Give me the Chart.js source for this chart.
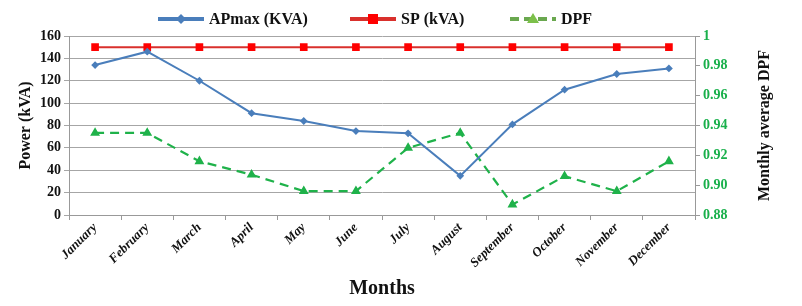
<!DOCTYPE html>
<html>
<head>
<meta charset="utf-8">
<script src="https://cdn.jsdelivr.net/npm/chart.js@4/dist/chart.umd.min.js"></script>
<style>
  html, body { margin: 0; padding: 0; background: #fff; }
  #wrap { width: 802px; height: 306px; }
</style>
</head>
<body>
<div id="wrap"><canvas id="myChart" width="802" height="306"></canvas></div>
<script>
const months = ['January', 'February', 'March', 'April', 'May', 'June', 'July', 'August', 'September', 'October', 'November', 'December']
const apmax = [134, 146, 120, 91, 84, 75, 73, 35, 81, 112, 126, 131]
const sp = [150, 150, 150, 150, 150, 150, 150, 150, 150, 150, 150, 150]
const dpf = [0.935, 0.935, 0.916, 0.907, 0.896, 0.896, 0.925, 0.935, 0.887, 0.906, 0.896, 0.916]
const powerTicks = [0, 20, 40, 60, 80, 100, 120, 140, 160]
const dpfTicks = [0.88, 0.90, 0.92, 0.94, 0.96, 0.98, 1]

const serif = "'Liberation Serif', 'Times New Roman', serif"
const blue = '#4a7ebb'
const red = '#ff0000'
const redLine = '#d9302c'
const green = '#1fb24a'

// legend drawn like Excel: line with a marker in the middle
const legendItems = [
    { text: 'APmax (KVA)', x: 158, color: blue, marker: 'diamond', dash: [] },
    { text: 'SP (kVA)', x: 350, color: redLine, markerColor: red, marker: 'square', dash: [] },
    { text: 'DPF', x: 510, color: '#6aa84f', markerColor: '#7cc04a', marker: 'tri', dash: [9, 5] }
]

const legendPlugin = {
    id: 'excelLegend',
    afterDraw(chart) {
        const c = chart.ctx
        const y = 19
        c.save()
        legendItems.forEach(item => {
            c.strokeStyle = item.color
            c.lineWidth = 4
            c.setLineDash(item.dash)
            c.beginPath()
            c.moveTo(item.x, y)
            c.lineTo(item.x + 46, y)
            c.stroke()
            c.setLineDash([])
            const mx = item.x + 23
            c.fillStyle = item.markerColor || item.color
            c.beginPath()
            if (item.marker === 'diamond') {
                c.moveTo(mx, y - 5); c.lineTo(mx + 5, y); c.lineTo(mx, y + 5); c.lineTo(mx - 5, y)
            } else if (item.marker === 'square') {
                c.rect(mx - 5, y - 5, 10, 10)
            } else {
                c.moveTo(mx, y - 6); c.lineTo(mx + 6, y + 4); c.lineTo(mx - 6, y + 4)
            }
            c.closePath()
            c.fill()
            c.fillStyle = '#111'
            c.font = 'bold 16px ' + serif
            c.textBaseline = 'middle'
            c.textAlign = 'left'
            c.fillText(item.text, item.x + 51, y + 1)
        })

        // right axis title reads bottom-to-top like the left one
        const area = chart.chartArea
        c.translate(765, (area.top + area.bottom) / 2)
        c.rotate(-Math.PI / 2)
        c.fillStyle = '#111'
        c.font = 'bold 16px ' + serif
        c.textAlign = 'center'
        c.textBaseline = 'middle'
        c.fillText('Monthly average DPF', 0, 0)
        c.restore()
    }
}

const ctx = document.getElementById('myChart')

new Chart(ctx, {
    type: 'line',
    data: {
        labels: months,
        datasets: [{
            label: 'APmax (KVA)',
            data: apmax,
            yAxisID: 'y',
            borderColor: blue,
            backgroundColor: blue,
            borderWidth: 2,
            pointStyle: 'rectRot',
            pointRadius: 2.5,
            tension: 0
        },
        {
            label: 'SP (kVA)',
            data: sp,
            yAxisID: 'y',
            borderColor: redLine,
            backgroundColor: red,
            pointBackgroundColor: red,
            pointBorderColor: red,
            borderWidth: 2,
            pointStyle: 'rect',
            pointRadius: 4,
            tension: 0
        },
        {
            label: 'DPF',
            data: dpf,
            yAxisID: 'y1',
            borderColor: green,
            backgroundColor: green,
            borderWidth: 2.2,
            borderDash: [9, 6],
            pointStyle: 'triangle',
            pointRadius: 3.5,
            tension: 0
        }]
    },
    options: {
        responsive: false,
        animation: false,
        layout: { padding: { top: 36, left: 0, right: 0, bottom: 0 } },
        plugins: {
            legend: { display: false },
            tooltip: { enabled: false }
        },
        scales: {
            x: {
                offset: true,
                grid: { offset: true, drawOnChartArea: false, color: '#999', tickLength: 5 },
                border: { color: '#999' },
                ticks: {
                    minRotation: 45, maxRotation: 45,
                    color: '#111',
                    font: { family: serif, size: 13, weight: 'bold', style: 'italic' },
                    padding: 0
                },
                title: {
                    display: true, text: 'Months', color: '#111',
                    font: { family: serif, size: 20, weight: 'bold' },
                    padding: { top: 0, bottom: 5 }
                },
                afterFit(axis) { axis.height = 91 }
            },
            y: {
                position: 'left',
                min: 0, max: 160,
                afterBuildTicks(axis) { axis.ticks = powerTicks.map(v => ({ value: v })) },
                grid: { color: '#a6a6a6', tickLength: 5 },
                border: { color: '#999' },
                ticks: {
                    color: '#111',
                    font: { family: serif, size: 14, weight: 'bold' },
                    padding: 3
                },
                title: {
                    display: true, text: 'Power (kVA)', color: '#111',
                    font: { family: serif, size: 16, weight: 'bold' },
                    padding: { top: 16, bottom: 0 }
                },
                afterFit(axis) { axis.width = 69 }
            },
            y1: {
                position: 'right',
                min: 0.88, max: 1,
                afterBuildTicks(axis) { axis.ticks = dpfTicks.map(v => ({ value: v })) },
                grid: { drawOnChartArea: false, color: '#999', tickLength: 5 },
                border: { color: '#999' },
                ticks: {
                    color: '#19b04b',
                    font: { family: serif, size: 14, weight: 'bold' },
                    padding: 3,
                    callback: v => v === 1 ? '1' : v.toFixed(2)
                },
                afterFit(axis) { axis.width = 107 }
            }
        }
    },
    plugins: [legendPlugin]
})
</script>
</body>
</html>
